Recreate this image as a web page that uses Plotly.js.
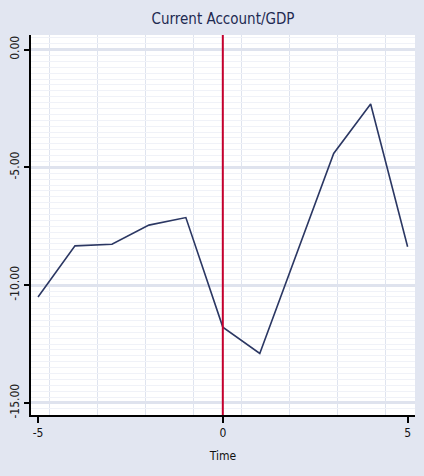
<!DOCTYPE html>
<html>
<head>
<meta charset="utf-8">
<script src="https://cdn.plot.ly/plotly-3.0.1.min.js"></script>
<style>html,body{margin:0;padding:0;background:#e2e6f1;}#chart{width:424px;height:476px;}</style>
</head>
<body>
<div id="chart"></div>
<script>
const time = [-5, -4, -3, -2, -1, 0, 1, 2, 3, 4, 5];
const currentAccountGDP = [-10.5, -8.33, -8.26, -7.45, -7.13, -11.78, -12.9, -8.66, -4.41, -2.31, -8.37];
const xTicks = [-5, 0, 5];
const yTicks = [0, -5, -10, -15];
const eventTime = 0;

const FONT = 'Liberation Sans Narrow, DejaVu Sans Condensed, Liberation Sans, sans-serif';

const traces = [{
  x: time,
  y: currentAccountGDP,
  type: 'scatter',
  mode: 'lines',
  line: {color: '#2b3763', width: 1.6},
  hoverinfo: 'x+y'
}];

const layout = {
  width: 424, height: 476,
  paper_bgcolor: '#e2e6f1',
  plot_bgcolor: '#ffffff',
  margin: {l: 31, r: 9, t: 35, b: 61},
  showlegend: false,
  title: {text: 'Current Account/GDP', x: 0.526, xanchor: 'center', y: 0.96, yanchor: 'middle',
          font: {family: FONT, size: 15, color: '#1e2a52'}},
  xaxis: {
    range: [-5.19, 5.2],
    tickvals: xTicks,
    ticktext: xTicks.map(String),
    showgrid: false,
    zeroline: false,
    showline: true, linecolor: '#000000', linewidth: 2,
    ticks: 'outside', ticklen: 6, tickwidth: 2, tickcolor: '#000000',
    tickfont: {family: FONT, size: 12, color: '#111111'},
    title: {text: 'Time', font: {family: FONT, size: 12, color: '#111111'}, standoff: 12},
    minor: {tick0: -4.69, dtick: 1.3, showgrid: true, gridcolor: '#dfe4ef', gridwidth: 1, ticks: ''}
  },
  yaxis: {
    range: [-15.51, 0.62],
    tickvals: yTicks,
    ticktext: yTicks.map(v => v.toFixed(2)),
    tickangle: -90,
    showgrid: true, gridcolor: '#dfe3ee', gridwidth: 3,
    zeroline: false,
    showline: true, linecolor: '#000000', linewidth: 2,
    ticks: 'outside', ticklen: 5, tickwidth: 2, tickcolor: '#000000',
    tickfont: {family: FONT, size: 12, color: '#222222'},
    minor: {dtick: 0.25, showgrid: true, gridcolor: '#f0f2f8', gridwidth: 1, ticks: ''}
  },
  shapes: [{
    type: 'line', xref: 'x', yref: 'paper',
    x0: eventTime, x1: eventTime, y0: 0, y1: 1,
    line: {color: '#c4002e', width: 2}
  }]
};

Plotly.newPlot('chart', traces, layout, {displayModeBar: false, staticPlot: true});
</script>
</body>
</html>
